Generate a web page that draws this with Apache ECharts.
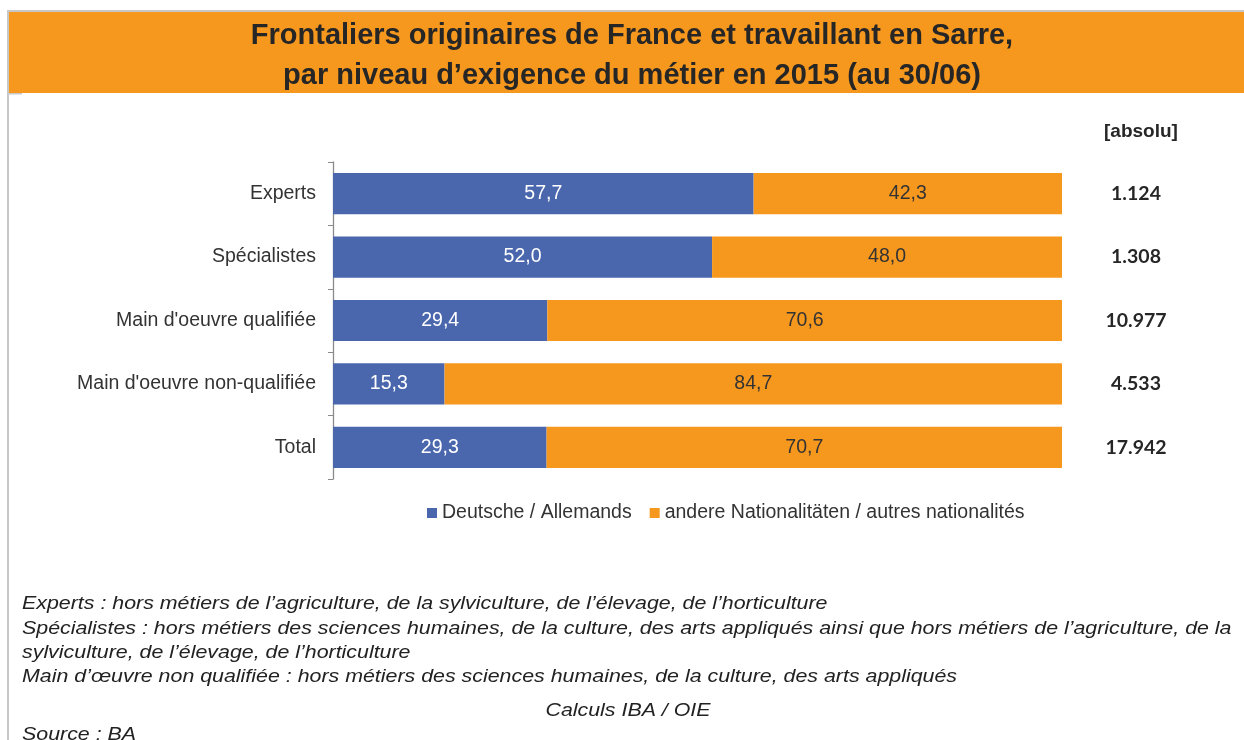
<!DOCTYPE html>
<html>
<head>
<meta charset="utf-8">
<script src="https://cdn.jsdelivr.net/npm/echarts@6/dist/echarts.min.js"></script>
<style>
  html, body { margin: 0; padding: 0; background: #fff; }
  #chart { width: 1244px; height: 740px; }
</style>
</head>
<body>
<div id="chart"></div>
<script>
// categories and values
var categories = ["Experts", "Spécialistes", "Main d'oeuvre qualifiée", "Main d'oeuvre non-qualifiée", "Total"];
var allemands = [57.7, 52.0, 29.4, 15.3, 29.3];
var autres = [42.3, 48.0, 70.6, 84.7, 70.7];
var absolu = ["1.124", "1.308", "10.977", "4.533", "17.942"];
var seriesNames = ["Deutsche / Allemands", "andere Nationalitäten / autres nationalités"];
var notes = [
  "Experts : hors métiers de l’agriculture, de la sylviculture, de l’élevage, de l’horticulture",
  "Spécialistes : hors métiers des sciences humaines, de la culture, des arts appliqués ainsi que hors métiers de l’agriculture, de la",
  "sylviculture, de l’élevage, de l’horticulture",
  "Main d’œuvre non qualifiée : hors métiers des sciences humaines, de la culture, des arts appliqués"
];

var BLUE = "#4a67ae";
var ORANGE = "#f7981e";
var FONT = "'Liberation Sans', Arial, sans-serif";
var NOTE_SCALE = 1.125; // footnote text is a bit stretched sideways in the original

var myChart = echarts.init(document.getElementById("chart"));

var fmt = function (p) {
  return p.value.toFixed(1).replace(".", ",");
};

var noteTexts = notes.map(function (t, i) {
  return {
    type: "text",
    x: 22,
    y: 604 + i * 24.4,
    scaleX: NOTE_SCALE,
    style: {
      text: t,
      font: "italic 19px " + FONT,
      fill: "#222",
      verticalAlign: "middle"
    }
  };
});

var option = {
  animation: false,
  textStyle: { fontFamily: FONT },
  title: {
    text: "Frontaliers originaires de France et travaillant en Sarre,\npar niveau d’exigence du métier en 2015 (au 30/06)",
    left: 627,
    top: 11,
    textAlign: "center",
    textStyle: {
      fontSize: 29,
      fontWeight: "bold",
      color: "#262626",
      lineHeight: 40,
      fontFamily: FONT
    }
  },
  legend: {
    data: seriesNames,
    top: 498,
    left: 422,
    icon: "rect",
    itemWidth: 10,
    itemHeight: 10,
    itemGap: 18,
    textStyle: { fontSize: 19.5, color: "#333", fontFamily: FONT }
  },
  grid: {
    left: 333,
    right: 182,
    top: 162,
    bottom: 261
  },
  xAxis: {
    type: "value",
    min: 0,
    max: 100,
    show: false
  },
  yAxis: [
    {
      type: "category",
      data: categories,
      inverse: true,
      axisLine: { show: true, lineStyle: { color: "#8a8a8a", width: 1.3 } },
      axisTick: { show: true, length: 5, lineStyle: { color: "#8a8a8a" } },
      axisLabel: { fontSize: 19.5, color: "#333", margin: 17, fontFamily: FONT }
    },
    {
      type: "category",
      data: absolu,
      inverse: true,
      position: "right",
      axisLine: { show: false },
      axisTick: { show: false },
      axisLabel: {
        align: "center",
        margin: 74,
        fontSize: 19.5,
        fontWeight: "bold",
        color: "#262626",
        fontFamily: "Lato, 'Open Sans', sans-serif"
      }
    }
  ],
  series: [
    {
      name: seriesNames[0],
      type: "bar",
      stack: "total",
      data: allemands,
      barWidth: "65%",
      itemStyle: { color: BLUE },
      label: { show: true, position: "inside", color: "#fff", fontSize: 19.5, formatter: fmt }
    },
    {
      name: seriesNames[1],
      type: "bar",
      stack: "total",
      data: autres,
      barWidth: "65%",
      itemStyle: { color: ORANGE },
      label: { show: true, position: "inside", color: "#333", fontSize: 19.5, formatter: fmt }
    }
  ],
  graphic: [
    { type: "rect", z: -1, shape: { x: 7, y: 10, width: 2, height: 730 }, style: { fill: "#c8c8c8" } },
    { type: "rect", z: -1, shape: { x: 7, y: 10, width: 1237, height: 2 }, style: { fill: "#c8c8c8" } },
    { type: "rect", z: -1, shape: { x: 9, y: 12, width: 1235, height: 81 }, style: { fill: ORANGE } },
    { type: "rect", z: -1, shape: { x: 9, y: 93, width: 13, height: 1.5 }, style: { fill: "#c8c8c8" } },
    {
      type: "text",
      left: 1104,
      top: 122,
      style: { text: "[absolu]", font: "bold 19px " + FONT, fill: "#262626" }
    }
  ].concat(noteTexts).concat([
    {
      type: "text",
      x: 628,
      y: 711,
      scaleX: NOTE_SCALE,
      style: { text: "Calculs IBA / OIE", font: "italic 19px " + FONT, fill: "#222", align: "center", verticalAlign: "middle" }
    },
    {
      type: "text",
      x: 22,
      y: 735,
      scaleX: NOTE_SCALE,
      style: { text: "Source : BA", font: "italic 19px " + FONT, fill: "#222", verticalAlign: "middle" }
    }
  ])
};

option && myChart.setOption(option);
</script>
</body>
</html>
